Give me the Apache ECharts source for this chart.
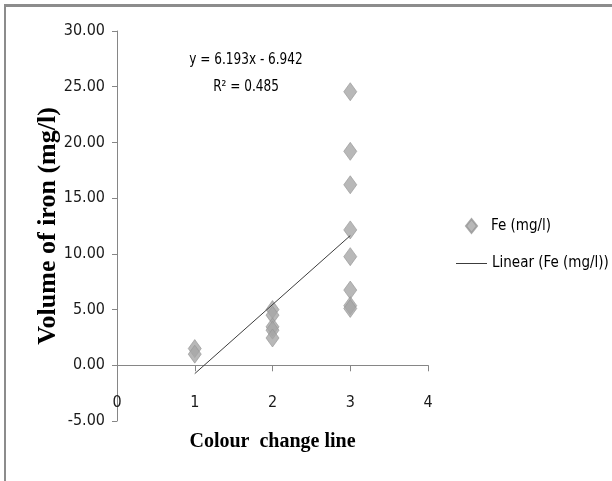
<!DOCTYPE html>
<html lang="en">
<head>
    <meta charset="UTF-8">
    <title>Fe vs colour change</title>
    <script src="https://cdn.jsdelivr.net/npm/echarts@6/dist/echarts.min.js"></script>
</head>
<style>
    html,body{
        padding: 0;
        margin: 0;
        background: #fff;
    }
</style>
<body>
<div id="chart" style="width: 612px;height:481px;"></div>
</body>
<script type="text/javascript">
    // colour change line (x) and iron readings (y)
    var colourLine = [1, 1, 2, 2, 2, 2, 2, 3, 3, 3, 3, 3, 3, 3, 3];
    var feValues = [1.5, 1.0, 5.0, 4.5, 3.45, 3.15, 2.45, 24.55, 19.2, 16.2, 12.15, 9.75, 6.75, 5.35, 5.1];
    var yTicks = [-5, 0, 5, 10, 15, 20, 25, 30];
    var xTicks = [0, 1, 2, 3, 4];
    // trendline from the equation printed on the chart
    var slope = 6.193;
    var intercept = -6.942;
    var rSquared = 0.485;

    var NARROW = '"Liberation Sans Narrow", "DejaVu Sans Condensed", "Liberation Sans", sans-serif';
    var SERIF = '"Liberation Serif", "DejaVu Serif", serif';

    var myChart = echarts.init(document.getElementById('chart'));

    var points = colourLine.map(function (x, i) { return [x, feValues[i]]; });
    var xMin = Math.min.apply(null, colourLine);
    var xMax = Math.max.apply(null, colourLine);
    var trend = [xMin, xMax].map(function (x) { return [x, slope * x + intercept]; });

    var option = {
        animation: false,
        grid: {left: 117, right: 184, top: 31, bottom: 60, outerBoundsMode: 'none', containLabel: false},
        xAxis: {
            type: 'value',
            min: xTicks[0], max: xTicks[xTicks.length - 1], interval: 1,
            name: 'Colour  change line',
            nameLocation: 'middle',
            // labels and name sit from the grid bottom, the line itself sits on zero
            nameGap: 11,
            nameMoveOverlap: false,
            nameTextStyle: {fontFamily: SERIF, fontWeight: 'bold', fontSize: 20, color: '#000'},
            axisLine: {onZero: true, lineStyle: {color: '#868686', width: 1}},
            axisTick: {show: true, inside: false, length: 6, lineStyle: {color: '#868686'}},
            axisLabel: {margin: -26, fontFamily: NARROW, fontSize: 16, color: '#1a1a1a'},
            splitLine: {show: false}
        },
        yAxis: {
            type: 'value',
            min: yTicks[0], max: yTicks[yTicks.length - 1], interval: 5,
            name: 'Volume of iron (mg/l)',
            nameLocation: 'middle',
            nameGap: 56,
            nameMoveOverlap: false,
            nameTextStyle: {fontFamily: SERIF, fontWeight: 'bold', fontSize: 26, color: '#000'},
            axisLine: {show: true, lineStyle: {color: '#868686', width: 1}},
            axisTick: {show: true, length: 5, lineStyle: {color: '#868686'}},
            axisLabel: {
                margin: 12, fontFamily: NARROW, fontSize: 16, color: '#1a1a1a',
                formatter: function (v) { return v.toFixed(2); }
            },
            splitLine: {show: false}
        },
        legend: [{
            orient: 'vertical',
            left: 460, top: 213,
            data: [{name: 'Fe (mg/l)', icon: 'diamond'}],
            itemWidth: 11, itemHeight: 14, itemGap: 6,
            textStyle: {fontFamily: NARROW, fontSize: 15, color: '#000', padding: [0, 0, 0, 9]}
        }, {
            orient: 'vertical',
            left: 451, top: 251,
            data: [{name: 'Linear (Fe (mg/l))', icon: 'rect'}],
            itemWidth: 31, itemHeight: 1, itemGap: 2,
            textStyle: {fontFamily: NARROW, fontSize: 15, color: '#000'}
        }],
        graphic: [
            {type: 'rect', shape: {x: 4, y: 4, width: 608, height: 3}, style: {fill: '#8c8c8c'}, silent: true},
            {type: 'rect', shape: {x: 4, y: 4, width: 2, height: 477}, style: {fill: '#8c8c8c'}, silent: true},
            {
                type: 'text',
                x: 246, y: 60, scaleX: 0.84,
                style: {
                    text: 'y = ' + slope.toFixed(3) + 'x - ' + Math.abs(intercept).toFixed(3),
                    align: 'center', verticalAlign: 'middle',
                    font: '16px ' + NARROW, fill: '#000'
                },
                silent: true
            },
            {
                type: 'text',
                x: 246, y: 87, scaleX: 0.84,
                style: {
                    text: 'R² = ' + rSquared.toFixed(3),
                    align: 'center', verticalAlign: 'middle',
                    font: '16px ' + NARROW, fill: '#000'
                },
                silent: true
            }
        ],
        series: [{
            name: 'Fe (mg/l)',
            type: 'scatter',
            symbol: 'diamond',
            symbolSize: [13, 18],
            itemStyle: {color: '#a6a6a6', borderColor: '#959595', borderWidth: 0.8},
            data: points,
            z: 3
        }, {
            name: 'Linear (Fe (mg/l))',
            type: 'line',
            symbol: 'none',
            lineStyle: {color: '#3c3c3c', width: 1},
            itemStyle: {color: '#3c3c3c'},
            data: trend,
            z: 4
        }]
    };

    myChart.setOption(option);
</script>
</html>
